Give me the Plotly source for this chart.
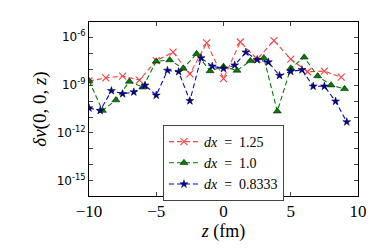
import plotly.graph_objects as go

# Data (log10 of delta nu)
z_r = [-10, -8.75, -7.5, -6.25, -5, -3.75, -2.5, -1.25, 0, 1.25, 2.5, 3.75, 5, 6.25, 7.5, 8.75]
lg_r = [-8.75, -8.56, -8.44, -8.69, -7.48, -6.94, -8.30, -6.37, -8.60, -6.31, -7.38, -6.22, -7.38, -8.17, -8.13, -8.51]

z_g = [-10, -9, -8, -7, -6, -5, -4, -3, -2, -1, 0, 1, 2, 3, 4, 5, 6, 7, 8, 9]
lg_g = [-8.73, -10.6, -9.94, -8.78, -9.14, -7.52, -7.44, -7.96, -7.05, -8.12, -7.85, -8.09, -7.49, -7.31,
        -10.64, -7.95, -7.27, -8.44, -9.01, -9.24]

z_b = [-10, -9.1667, -8.3333, -7.5, -6.6667, -5.8333, -5, -4.1667, -3.3333, -2.5, -1.6667, -0.8333,
       0, 0.8333, 1.6667, 2.5, 3.3333, 4.1667, 5, 5.8333, 6.6667, 7.5, 8.3333, 9.1667]
lg_b = [-10.44, -10.6, -9.36, -9.55, -9.44, -9.02, -9.64, -8.09, -8.17, -9.99, -7.31, -7.83,
        -7.97, -7.76, -6.95, -7.42, -7.57, -8.41, -8.15, -8.05, -9.08, -9.08, -10.02, -11.31]

labels = ["<i>dx</i>\u00a0\u00a0=\u00a0\u00a01.25", "<i>dx</i>\u00a0\u00a0=\u00a0\u00a01.0",
          "<i>dx</i>\u00a0\u00a0=\u00a0\u00a00.8333"]

y_r = [10 ** v for v in lg_r]
y_g = [10 ** v for v in lg_g]
y_b = [10 ** v for v in lg_b]

xticks = [-10, -5, 0, 5, 10]
ylabelled = [-6, -9, -12, -15]
yminor = [-16, -14, -13, -11, -10, -8, -7, -5]

fig = go.Figure()
dash = "5px,3px"
fig.add_trace(go.Scatter(x=z_r, y=y_r, name=labels[0], mode="lines+markers",
                         line=dict(color="#ff4040", width=1.1, dash=dash),
                         marker=dict(symbol="x-thin", size=7, line=dict(color="#ff4040", width=1.1))))
fig.add_trace(go.Scatter(x=z_g, y=y_g, name=labels[1], mode="lines+markers",
                         line=dict(color="#008000", width=1.1, dash=dash),
                         marker=dict(symbol="triangle-up", size=7, color="#008000",
                                     line=dict(color="black", width=0.5))))
fig.add_trace(go.Scatter(x=z_b, y=y_b, name=labels[2], mode="lines+markers",
                         line=dict(color="#0000ff", width=1.1, dash=dash),
                         marker=dict(symbol="star", size=6, color="#0000aa",
                                     line=dict(color="black", width=0.5))))

fig.update_layout(
    width=374, height=249,
    margin=dict(l=81, r=24, t=14, b=61, autoexpand=False),
    paper_bgcolor="white", plot_bgcolor="white",
    showlegend=True,
    legend=dict(x=0.275, y=0.408, xanchor="left", yanchor="top",
                bgcolor="white", bordercolor="#444", borderwidth=1,
                font=dict(family="Liberation Serif", size=14, color="black"),
                tracegroupgap=0, itemwidth=30),
    xaxis=dict(range=[-10, 10], tickvals=xticks, ticks="inside", ticklen=4,
               showline=True, linecolor="black", linewidth=1, mirror="ticks",
               showgrid=False, zeroline=False, automargin=False,
               tickfont=dict(family="Liberation Serif", size=17, color="black"),
               title=dict(text="<i>z</i> (fm)", standoff=2,
                          font=dict(family="Liberation Serif", size=18, color="black"))),
    yaxis=dict(type="log", range=[-15.94, -5.06], tickmode="array",
               tickvals=[10 ** d for d in ylabelled],
               ticktext=["10<sup>%d</sup>" % d for d in ylabelled],
               ticks="inside", ticklen=4,
               minor=dict(tickmode="array", tickvals=[10 ** d for d in yminor],
                          ticks="inside", ticklen=4, showgrid=False),
               showline=True, linecolor="black", linewidth=1, mirror="ticks",
               showgrid=False, zeroline=False, automargin=False,
               tickfont=dict(family="DejaVu Sans", size=12, color="black"),
               title=dict(text="<i>δν</i>(0, 0, <i>z</i>)", standoff=4,
                          font=dict(family="Liberation Serif", size=19, color="black"))),
)

fig.write_html("out.html")
